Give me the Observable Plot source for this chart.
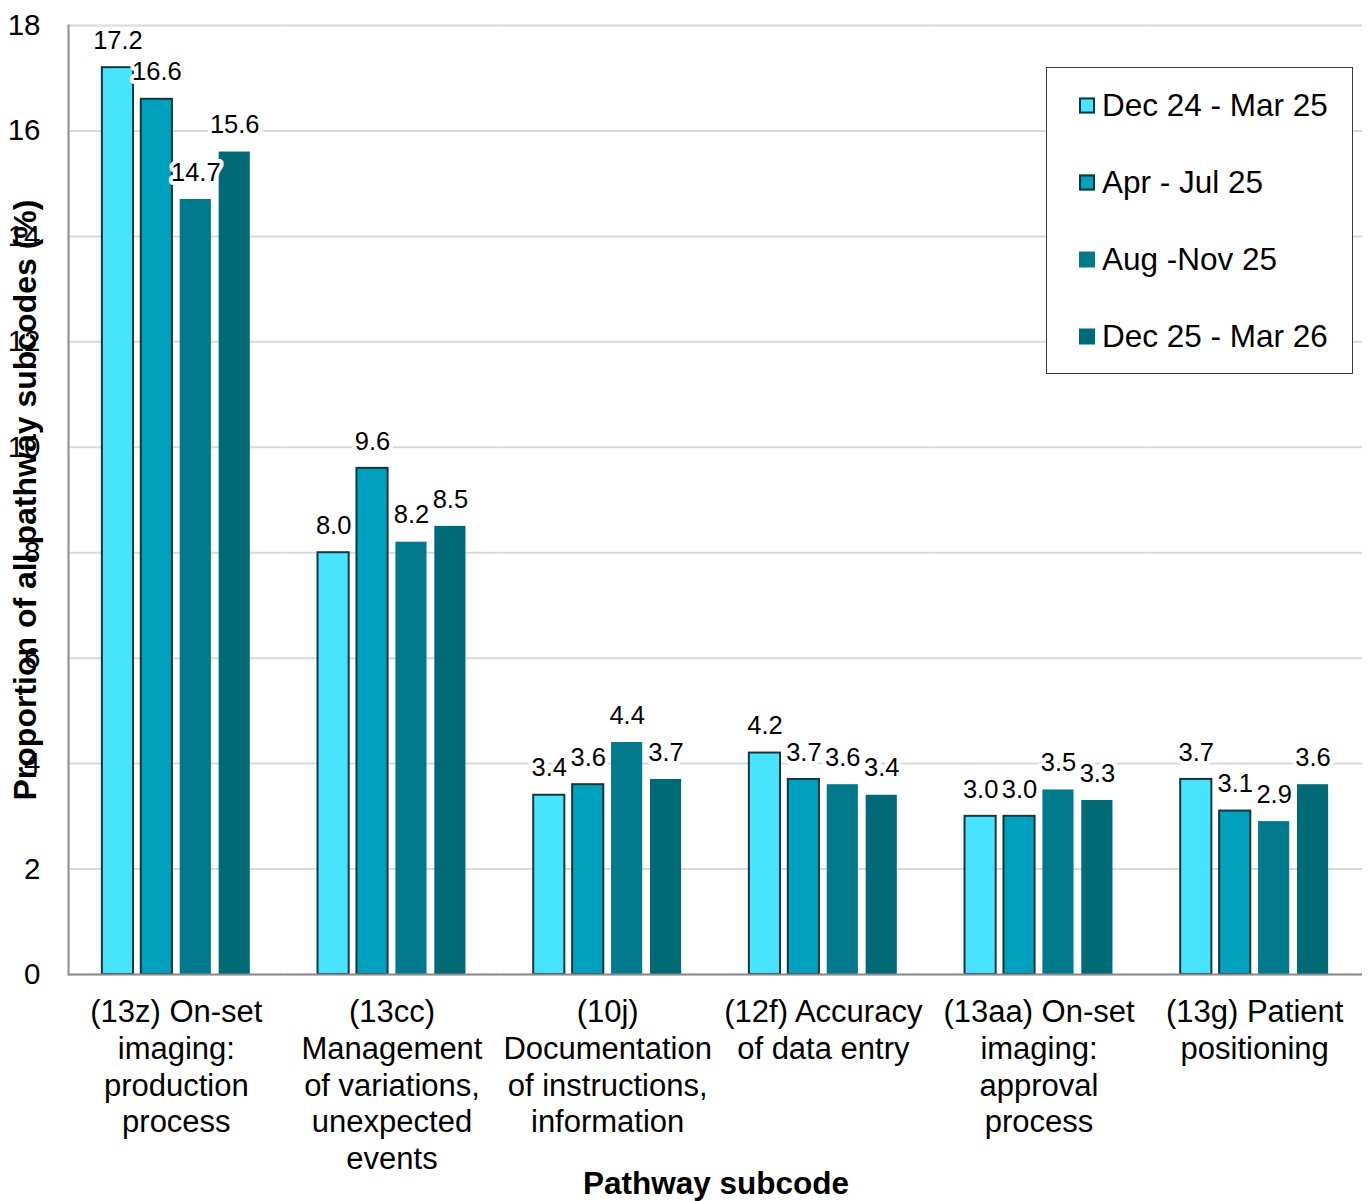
<!DOCTYPE html>
<html>
<head>
<meta charset="utf-8">
<script src="https://cdn.jsdelivr.net/npm/d3@7"></script>
<script src="https://cdn.jsdelivr.net/npm/@observablehq/plot@0.6"></script>
<style>
  html, body { margin: 0; padding: 0; background: #fff; }
  #wrap { position: relative; width: 1370px; height: 1201px; font-family: "Liberation Sans", Arial, sans-serif; color: #000; }
  #wrap svg { position: absolute; left: 0; top: 0; }
  .ytitle { position: absolute; left: 25px; top: 500px; transform: translate(-50%, -50%) rotate(-90deg); font-weight: bold; font-size: 32px; white-space: nowrap; }
  .xtitle { position: absolute; left: 716px; top: 1183px; transform: translate(-50%, -50%); font-weight: bold; font-size: 31.5px; white-space: nowrap; }
  .legend { position: absolute; left: 1046px; top: 67px; width: 305px; height: 305px; border: 1px solid #3a3a3a; background: #fff; }
  .item { position: absolute; left: 32px; transform: translateY(-50%); display: flex; align-items: center; font-size: 31.5px; white-space: nowrap; }
  .sw { width: 16px; height: 16px; margin-right: 7px; box-sizing: border-box; }
</style>
</head>
<body>
<div id="wrap"></div>
<script>
const categories = ["13z", "13cc", "10j", "12f", "13aa", "13g"];
const categoryLabels = [
  "(13z) On-set\nimaging:\nproduction\nprocess",
  "(13cc)\nManagement\nof variations,\nunexpected\nevents",
  "(10j)\nDocumentation\nof instructions,\ninformation",
  "(12f) Accuracy\nof data entry",
  "(13aa) On-set\nimaging:\napproval\nprocess",
  "(13g) Patient\npositioning"
];
const seriesNames = ["Dec 24 - Mar 25", "Apr - Jul 25", "Aug -Nov 25", "Dec 25 - Mar 26"];
const dec24Mar25 = [17.2, 8.0, 3.4, 4.2, 3.0, 3.7];
const apr25Jul25 = [16.6, 9.6, 3.6, 3.7, 3.0, 3.1];
const aug25Nov25 = [14.7, 8.2, 4.4, 3.6, 3.5, 2.9];
const dec25Mar26 = [15.6, 8.5, 3.7, 3.4, 3.3, 3.6];
const yTicks = [0, 2, 4, 6, 8, 10, 12, 14, 16, 18];
const seriesColors = ["#48e4ff", "#00a1bf", "#007a8c", "#006a77"];
const outlinedSeries = ["Dec 24 - Mar 25", "Apr - Jul 25"];

const seriesValues = [dec24Mar25, apr25Jul25, aug25Nov25, dec25Mar26];
const data = [];
categories.forEach((c, i) => {
  seriesNames.forEach((s, j) => data.push({cat: c, series: s, value: seriesValues[j][i]}));
});
const labelOf = new Map(categories.map((c, i) => [c, categoryLabels[i]]));
const fmt = d3.format(".1f");

const chart = Plot.plot({
  width: 1370,
  height: 1201,
  marginLeft: 68,
  marginRight: 8,
  marginTop: 25,
  marginBottom: 227,
  style: {fontFamily: "'Liberation Sans', Arial, sans-serif", background: "white"},
  fx: {domain: categories, padding: 0, round: false, label: null},
  x: {domain: seriesNames, paddingInner: 0.2, paddingOuter: 0.87, round: false, axis: null},
  y: {domain: [0, 18], axis: null},
  color: {domain: seriesNames, range: seriesColors},
  marks: [
    Plot.gridY(yTicks, {stroke: "#d9d9d9", strokeOpacity: 1, strokeWidth: 2}),
    Plot.barY(data.filter(d => outlinedSeries.includes(d.series)), {fx: "cat", x: "series", y: "value", fill: "series", stroke: "#17363c", strokeWidth: 2}),
    Plot.barY(data.filter(d => !outlinedSeries.includes(d.series)), {fx: "cat", x: "series", y: "value", fill: "series"}),
    Plot.ruleY([0], {stroke: "#8c8c8c", strokeWidth: 2}),
    Plot.frame({anchor: "left", facetAnchor: "left", stroke: "#8c8c8c", strokeWidth: 2}),
    Plot.text(data, {fx: "cat", x: "series", y: "value", text: d => fmt(d.value), dy: -27, fontSize: 25.5, fill: "black", stroke: "white", strokeWidth: 8}),
    Plot.axisY(yTicks, {tickSize: 0, tickPadding: 28, fontSize: 29.5, label: null, facetAnchor: "left", tickFormat: d3.format("d")}),
    Plot.axisFx({anchor: "bottom", tickSize: 0, tickPadding: 22, fontSize: 31, lineHeight: 1.18, label: null, tickFormat: c => labelOf.get(c)})
  ]
});

const wrap = document.getElementById("wrap");
wrap.appendChild(chart);

const yt = document.createElement("div");
yt.className = "ytitle";
yt.textContent = "Proportion of all pathway subcodes (%)";
wrap.appendChild(yt);

const xt = document.createElement("div");
xt.className = "xtitle";
xt.textContent = "Pathway subcode";
wrap.appendChild(xt);

const lg = document.createElement("div");
lg.className = "legend";
seriesNames.forEach((s, i) => {
  const it = document.createElement("div");
  it.className = "item";
  it.style.top = (37 + i * 77) + "px";
  const sw = document.createElement("span");
  sw.className = "sw";
  sw.style.background = seriesColors[i];
  if (outlinedSeries.includes(s)) sw.style.border = "2px solid #17363c";
  const tx = document.createElement("span");
  tx.textContent = s;
  it.appendChild(sw);
  it.appendChild(tx);
  lg.appendChild(it);
});
wrap.appendChild(lg);
</script>
</body>
</html>
